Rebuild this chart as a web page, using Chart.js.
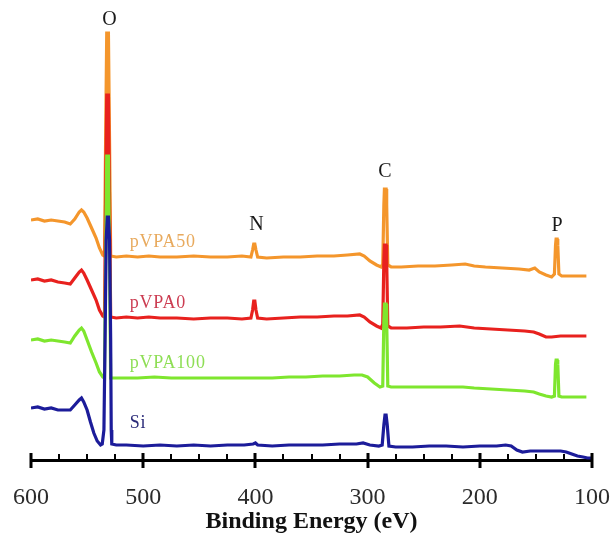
<!DOCTYPE html>
<html>
<head>
<meta charset="utf-8">
<script src="https://cdn.jsdelivr.net/npm/chart.js@4.4.1/dist/chart.umd.min.js"></script>
<style>
  html, body { margin: 0; padding: 0; background: #ffffff; }
  #c { display: block; }
</style>
</head>
<body>
<canvas id="c" width="614" height="540"></canvas>
<script>
// ---- Data (binding energy in eV, intensity in arbitrary offset units) ----
const seriesNames = ['Si', 'pVPA100', 'pVPA0', 'pVPA50'];

const siData = [[600,52],[594,53],[588,51],[582,52],[576,50],[570,50],[565,50],[561,55],[557,60],[555,62],[553,58],[550,50],[547,38],[544,27],[541,19],[538,15],[536.5,16],[535,30],[534,120],[533,220],[532,243],[531,243],[530,220],[529,120],[528.5,30],[528,16],[524,15],[515,15],[500,14],[485,15],[470,14],[455,15],[440,14],[425,15],[410,15],[402,16],[400,17],[398,15],[385,14],[370,15],[355,15],[340,15],[325,16],[310,16],[304,17],[298,15],[290,14],[287,15],[285.5,35],[284.5,45],[283.5,45],[282.5,35],[281,14],[275,13],[260,13],[245,14],[230,14],[215,13],[200,14],[185,14],[177,15],[172,14],[167,10],[162,8],[155,9],[145,9],[135,9],[128,9],[123,8],[118,6],[113,4],[108,3],[104,2],[100,2]];

const pvpa100Data = [[600,120],[594,121],[588,119],[582,120],[576,119],[570,118],[565,117],[561,124],[557,130],[555,132],[553,129],[550,120],[546,108],[542,97],[539,88],[536,83],[534.5,82],[533.5,200],[532.5,304],[531,304],[530,200],[529,82],[520,82],[505,82],[490,83],[475,82],[460,82],[445,82],[430,82],[415,82],[400,82],[385,82],[370,83],[355,83],[340,84],[325,84],[312,85],[305,85],[300,83],[294,77],[289,73],[286.5,74],[285.5,140],[285,156],[283.5,156],[283,140],[282,74],[279,73],[265,73],[250,73],[235,73],[215,73],[205,72],[190,71],[175,70],[160,69],[152,68],[147,66],[141,64],[136,63],[133.5,64],[132.5,96],[132,100],[131,100],[130.5,96],[129.5,64],[127,63],[118,63],[108,63],[105,63]];

const pvpa0Data = [[600,180],[594,181],[588,179],[582,180],[576,178],[570,177],[565,176],[561,182],[557,188],[555,190],[553,187],[550,180],[546,170],[542,160],[539,150],[536,144],[534.5,143],[533.5,260],[532.5,365],[531,365],[530,260],[529,143],[524,142],[515,143],[505,142],[495,143],[485,142],[470,142],[455,141],[440,142],[425,142],[412,141],[404,142],[402.5,150],[401.5,159],[400.5,159],[399.5,150],[398,142],[390,141],[375,142],[360,143],[345,143],[330,144],[318,144],[307,145],[303,143],[298,138],[292,134],[288,132],[286.5,136],[285.5,200],[285,215],[283.5,215],[283,200],[282,134],[279,132],[265,132],[250,133],[235,133],[218,134],[205,132],[190,131],[175,130],[160,129],[152,128],[147,126],[141,123],[136,123],[128,124],[118,124],[108,124],[105,124]];

const pvpa50Data = [[600,240],[594,241],[588,239],[582,240],[576,239],[570,238],[565,236],[561,241],[557,248],[555,250],[553,248],[550,242],[546,232],[542,222],[539,212],[536,205],[534.5,204],[533.5,320],[532.5,427],[531,427],[530,320],[529,204],[524,203],[515,204],[505,203],[495,204],[485,203],[470,203],[455,204],[440,203],[425,203],[412,204],[404,203],[402.5,210],[401.5,216],[400.5,216],[399.5,210],[398,203],[390,202],[375,203],[360,203],[345,204],[330,204],[318,205],[307,206],[303,204],[298,199],[292,195],[288,193],[286.5,196],[285.5,255],[285,271],[283.5,271],[283,255],[282,195],[279,193],[270,193],[255,194],[240,194],[225,195],[213,196],[205,194],[195,193],[180,192],[165,191],[156,190],[151,192],[147,188],[141,185],[136,183],[133.5,186],[132.5,215],[132,221],[131,221],[130.5,215],[129.5,186],[127,184],[118,184],[108,184],[105,184]];

const xTickValues = [600, 500, 400, 300, 200, 100];

// Peak labels: element, energy, intensity where the label sits
const peakLabels = ['O', 'N', 'C', 'P'];
const peakLabelEnergy = [530, 399, 284.5, 131.2];
const peakLabelLevel = [440, 235, 288, 234];

// Series labels: energy of the left edge, intensity at the baseline
const seriesLabelEnergy = [512, 512, 512, 512];
const seriesLabelLevel = [32, 92, 152, 213];

// ---- Styles ----
const lineColors = ['#1c1c9a', '#7ee62e', '#e8211e', '#f4962c'];
const labelColors = ['#2a2a78', '#8ede55', '#cc3d52', '#e8aa5e'];

const toXY = arr => arr.map(p => ({ x: p[0], y: p[1] }));
const allData = [siData, pvpa100Data, pvpa0Data, pvpa50Data];

const datasets = seriesNames.map((name, i) => ({
  label: name,
  data: toXY(allData[i]),
  borderColor: lineColors[i],
  borderWidth: 3.2,
  pointRadius: 0,
  tension: 0,
  fill: false
}));

const annotatePlugin = {
  id: 'annotate',
  afterDatasetsDraw(chart) {
    const ctx = chart.ctx;
    const xs = chart.scales.x, ys = chart.scales.y;
    ctx.save();
    ctx.fillStyle = '#1a1a1a';
    ctx.font = '20px "Liberation Serif"';
    ctx.textAlign = 'center';
    ctx.textBaseline = 'middle';
    peakLabels.forEach((t, i) => {
      ctx.fillText(t, xs.getPixelForValue(peakLabelEnergy[i]), ys.getPixelForValue(peakLabelLevel[i]));
    });
    ctx.font = '18px "Liberation Serif"';
    ctx.textAlign = 'left';
    ctx.textBaseline = 'alphabetic';
    if ('letterSpacing' in ctx) ctx.letterSpacing = '0.8px';
    seriesNames.forEach((t, i) => {
      ctx.fillStyle = labelColors[i];
      ctx.fillText(t, xs.getPixelForValue(seriesLabelEnergy[i]), ys.getPixelForValue(seriesLabelLevel[i]));
    });
    ctx.restore();
  },
  afterDraw(chart) {
    const ctx = chart.ctx;
    const xs = chart.scales.x;
    const yb = chart.chartArea.bottom;
    ctx.save();
    ctx.strokeStyle = '#000';
    for (let v = xs.min; v <= xs.max; v += 25) {
      const px = Math.round(xs.getPixelForValue(v));
      ctx.beginPath();
      if (v % 100 === 0) {
        ctx.lineWidth = 3;
        ctx.moveTo(px, yb - 7);
        ctx.lineTo(px, yb + 8);
      } else {
        ctx.lineWidth = 2;
        ctx.moveTo(px, yb - 6);
        ctx.lineTo(px, yb);
      }
      ctx.stroke();
    }
    ctx.restore();
  }
};

new Chart(document.getElementById('c'), {
  type: 'line',
  data: { datasets },
  plugins: [annotatePlugin],
  options: {
    responsive: false,
    animation: false,
    layout: { padding: { left: 31, right: 22, top: 0, bottom: 0 } },
    plugins: { legend: { display: false }, tooltip: { enabled: false } },
    scales: {
      x: {
        type: 'linear',
        reverse: true,
        min: 100,
        max: 600,
        afterBuildTicks: s => { s.ticks = xTickValues.map(v => ({ value: v })); },
        ticks: {
          font: { family: 'Liberation Serif', size: 24 },
          color: '#2b2b2b',
          padding: 15,
          maxRotation: 0,
          autoSkip: false
        },
        grid: { display: false },
        border: { display: true, width: 3, color: '#000' },
        title: {
          display: true,
          text: 'Binding Energy (eV)',
          font: { family: 'Liberation Serif', size: 24, weight: 'bold' },
          color: '#111',
          padding: { top: 0, bottom: 4 }
        },
        afterFit: s => { s.height = 80; s.paddingLeft = 0; s.paddingRight = 0; }
      },
      y: {
        type: 'linear',
        display: false,
        min: 0,
        max: 460
      }
    }
  }
});
</script>
</body>
</html>
